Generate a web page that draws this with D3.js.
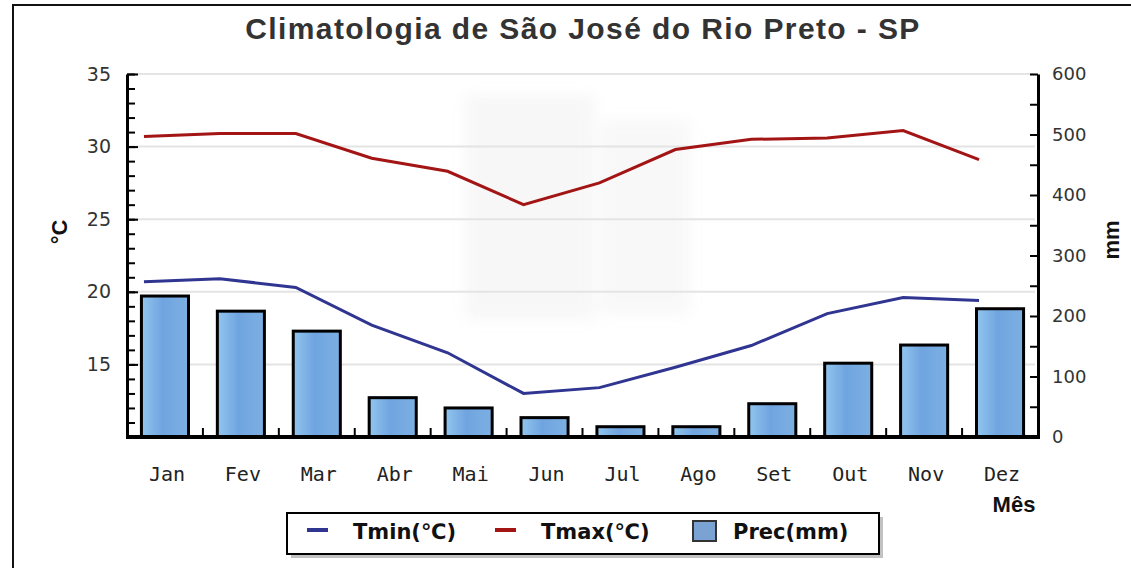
<!DOCTYPE html>
<html>
<head>
<meta charset="utf-8">
<script src="https://cdn.jsdelivr.net/npm/d3@7"></script>
<style>
  body { margin:0; background:#fff; }
  svg { display:block; }
</style>
</head>
<body>
<div id="chart"></div>
<script>
// dados
const months = ['Jan','Fev','Mar','Abr','Mai','Jun','Jul','Ago','Set','Out','Nov','Dez'];
const tmin = [20.7, 20.9, 20.3, 17.7, 15.8, 13.0, 13.4, 14.8, 16.3, 18.5, 19.6, 19.4];
const tmax = [30.7, 30.9, 30.9, 29.2, 28.3, 26.0, 27.5, 29.8, 30.5, 30.6, 31.1, 29.1];
const prec = [233, 208, 175, 65, 48, 32, 17, 17, 55, 122, 152, 212];
const tempTicks = [15, 20, 25, 30, 35];
const precTicks = [0, 100, 200, 300, 400, 500, 600];

const W = 1131, H = 568;
const mLeft = 127, mRight = 1038, mTop = 74, mBottom = 437;
const lineShift = -21; // as linhas ficam um pouco à esquerda das barras

const svg = d3.select('#chart').append('svg').attr('width', W).attr('height', H);

const defs = svg.append('defs');
const grad = defs.append('linearGradient').attr('id','barGrad').attr('x1','0').attr('x2','1').attr('y1','0').attr('y2','0');
grad.append('stop').attr('offset','0%').attr('stop-color','#92c6ee');
grad.append('stop').attr('offset','45%').attr('stop-color','#70a4e0');
grad.append('stop').attr('offset','100%').attr('stop-color','#7cb0e2');
defs.append('filter').attr('id','blur').append('feGaussianBlur').attr('stdDeviation', 7);

// moldura
svg.append('path').attr('d', `M13,${H} V5 H${W}`).attr('fill','none').attr('stroke','#111').attr('stroke-width',2);

// marca d'água (bem clara)
const wm = svg.append('g').attr('filter','url(#blur)').attr('opacity',0.3);
wm.append('rect').attr('x',465).attr('y',95).attr('width',130).attr('height',225).attr('fill','#e6e6e6');
wm.append('rect').attr('x',600).attr('y',120).attr('width',90).attr('height',195).attr('fill','#e9e9e9');

const x = d3.scaleBand().domain(months).range([mLeft, mRight]).paddingInner(0.38).paddingOuter(0.19);
const yT = d3.scaleLinear().domain([10, 35]).range([mBottom, mTop]);
const yP = d3.scaleLinear().domain([0, 600]).range([mBottom, mTop]);

// grade
svg.append('g').selectAll('line').data(tempTicks).join('line')
  .attr('x1', mLeft + 3).attr('x2', mRight - 3)
  .attr('y1', d => yT(d)).attr('y2', d => yT(d))
  .attr('stroke', '#e4e4e4').attr('stroke-width', 2);

// barras
svg.append('g').selectAll('rect').data(prec).join('rect')
  .attr('x', (d,i) => x(months[i]))
  .attr('y', d => yP(d))
  .attr('width', x.bandwidth())
  .attr('height', d => yP(0) - yP(d))
  .attr('fill', 'url(#barGrad)')
  .attr('stroke', '#000').attr('stroke-width', 3);

// linhas
const line = d3.line()
  .x((d,i) => x(months[i]) + x.bandwidth()/2 + lineShift)
  .y(d => yT(d));
svg.append('path').datum(tmax).attr('d', line).attr('fill','none').attr('stroke','#a31515').attr('stroke-width',3);
svg.append('path').datum(tmin).attr('d', line).attr('fill','none').attr('stroke','#2f3590').attr('stroke-width',3);

// eixo esquerdo
const gL = svg.append('g').attr('transform', `translate(${mLeft},0)`);
gL.call(d3.axisLeft(yT).tickValues(d3.range(10, 36)).tickFormat('').tickSizeInner(-8).tickSizeOuter(0));
gL.call(g => g.select('.domain').remove());
const gL2 = svg.append('g').attr('transform', `translate(${mLeft},0)`);
gL2.call(d3.axisLeft(yT).tickValues(tempTicks).tickSizeInner(-11).tickSizeOuter(0).tickPadding(16));
gL2.select('.domain').attr('stroke','#000').attr('stroke-width',3);
[gL, gL2].forEach(g => g.selectAll('.tick line').attr('stroke','#000').attr('stroke-width',2));
gL2.selectAll('.tick text').attr('font-family','DejaVu Sans').attr('font-size',19).attr('fill','#333');

// eixo direito
const gR = svg.append('g').attr('transform', `translate(${mRight},0)`);
gR.call(d3.axisRight(yP).tickValues(d3.range(0, 601, 50)).tickFormat(d => precTicks.includes(d) ? d : '')
  .tickSizeInner(-8).tickSizeOuter(0).tickPadding(14));
gR.select('.domain').attr('stroke','#000').attr('stroke-width',3);
gR.selectAll('.tick line').attr('stroke','#000').attr('stroke-width',2);
gR.selectAll('.tick text').attr('font-family','DejaVu Sans').attr('font-size',18).attr('fill','#333');

// eixo inferior
const step = x.step();
const gB = svg.append('g').attr('transform', `translate(0,${mBottom})`);
gB.selectAll('line.sep').data(months.slice(1)).join('line')
  .attr('x1', d => x(d) - step * x.paddingInner() / 2)
  .attr('x2', d => x(d) - step * x.paddingInner() / 2)
  .attr('y1', 0).attr('y2', -9)
  .attr('stroke','#000').attr('stroke-width',2);
gB.append('line').attr('x1', mLeft - 1).attr('x2', mRight + 2).attr('y1', 0).attr('y2', 0)
  .attr('stroke','#000').attr('stroke-width',4);
gB.selectAll('text').data(months).join('text')
  .attr('x', d => x(d) + x.bandwidth()/2 + 2)
  .attr('y', 44)
  .attr('text-anchor','middle')
  .attr('font-family','DejaVu Sans Mono').attr('font-size',20).attr('fill','#222')
  .text(d => d);

// títulos
svg.append('text').attr('x', 583).attr('y', 39).attr('text-anchor','middle')
  .attr('font-family','Liberation Sans, Arial').attr('font-weight','bold').attr('font-size',30)
  .attr('letter-spacing', 1.4).attr('fill','#333')
  .text('Climatologia de São José do Rio Preto - SP');
svg.append('text').attr('transform','translate(67,232) rotate(-90)').attr('text-anchor','middle')
  .attr('font-family','Liberation Sans, Arial').attr('font-weight','bold').attr('font-size',22).attr('fill','#111')
  .text('°C');
svg.append('text').attr('transform','translate(1119,240) rotate(-90)').attr('text-anchor','middle')
  .attr('font-family','Liberation Sans, Arial').attr('font-weight','bold').attr('font-size',22).attr('fill','#111')
  .text('mm');
svg.append('text').attr('x', 1014).attr('y', 512).attr('text-anchor','middle')
  .attr('font-family','Liberation Sans, Arial').attr('font-weight','bold').attr('font-size',22).attr('fill','#111')
  .text('Mês');

// legenda
const lg = svg.append('g').attr('transform','translate(287,513)');
lg.append('rect').attr('x',4).attr('y',4).attr('width',592).attr('height',41).attr('fill','#999').attr('opacity',0.6);
lg.append('rect').attr('width',592).attr('height',41).attr('fill','#fff').attr('stroke','#000').attr('stroke-width',2);
const items = [
  { label:'Tmin(℃)', type:'line', color:'#2f3590', x:20 },
  { label:'Tmax(℃)', type:'line', color:'#a31515', x:208 },
  { label:'Prec(mm)', type:'rect', color:'#7aa3d4', x:406 }
];
items.forEach(it => {
  if (it.type === 'line') {
    lg.append('line').attr('x1', it.x).attr('x2', it.x + 21).attr('y1', 17).attr('y2', 17)
      .attr('stroke', it.color).attr('stroke-width', 4);
  } else {
    lg.append('rect').attr('x', it.x).attr('y', 8).attr('width', 23).attr('height', 20)
      .attr('fill', it.color).attr('stroke', '#333').attr('stroke-width', 2);
  }
  lg.append('text').attr('x', it.x + (it.type === 'line' ? 46 : 40)).attr('y', 26)
    .attr('font-family','DejaVu Sans').attr('font-weight','bold').attr('font-size',21).attr('fill','#111')
    .text(it.label);
});
</script>
</body>
</html>
